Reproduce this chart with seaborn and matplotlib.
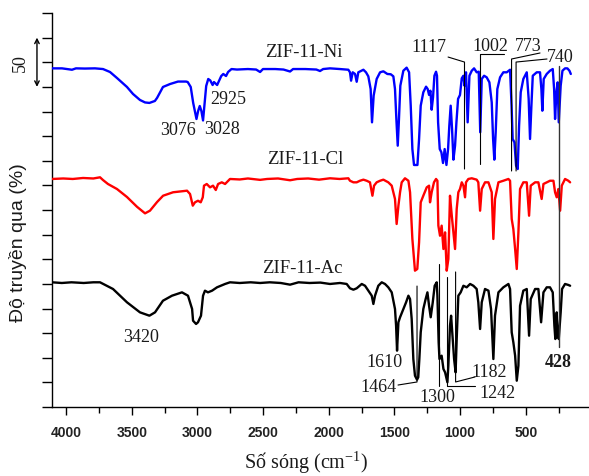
import pandas as pd
import matplotlib
matplotlib.use("Agg")
import matplotlib.pyplot as plt
import matplotlib.transforms as mtransforms
from matplotlib.ticker import MultipleLocator
import seaborn as sns

sns.set_style("ticks")
plt.rcParams["font.family"] = ["Liberation Serif", "DejaVu Serif"]
plt.rcParams["mathtext.fontset"] = "custom"
plt.rcParams["mathtext.rm"] = "Liberation Serif"
plt.rcParams["mathtext.it"] = "Liberation Serif:italic"

# FT-IR spectra (wavenumber cm-1, stacked transmittance), one list per sample
ni_spectrum = [
    (4132, 343.8), (4059, 343.8), (3986, 342.4), (3957, 343.8), (3891, 343.6), (3818, 343.8),
    (3759, 343.1), (3708, 340.1), (3657, 334.0), (3584, 324.9), (3540, 317.8), (3489, 311.7),
    (3452, 309.2), (3420, 308.7), (3380, 310.7), (3364, 313.8), (3321, 324.9), (3269, 327.9),
    (3211, 330.4), (3152, 330.4), (3140, 329.9), (3118, 324.9), (3100, 308.7), (3076, 292.4),
    (3064, 300.5), (3052, 305.6), (3040, 300.5), (3028, 290.9), (3018, 305.6), (3005, 325.9),
    (2990, 333.0), (2975, 331.5), (2958, 326.9), (2948, 329.9), (2925, 326.9), (2910, 331.5),
    (2895, 336.0), (2880, 338.1), (2860, 336.0), (2845, 340.1), (2820, 343.1), (2780, 342.6),
    (2700, 343.1), (2640, 342.6), (2611, 340.1), (2590, 343.1), (2500, 343.1), (2440, 342.6),
    (2392, 340.6), (2370, 343.1), (2280, 343.1), (2200, 342.6), (2173, 341.1), (2150, 343.1),
    (2100, 343.8), (2027, 343.1), (1966, 342.4), (1954, 339.8), (1946, 331.3), (1934, 339.8),
    (1917, 338.1), (1905, 330.2), (1893, 339.8), (1856, 342.4), (1837, 339.8), (1820, 335.7),
    (1803, 322.8), (1793, 289.0), (1781, 316.1), (1759, 333.0), (1734, 339.8), (1710, 340.8),
    (1681, 338.1), (1656, 337.8), (1637, 335.7), (1625, 322.8), (1615, 292.4), (1605, 265.3),
    (1596, 292.4), (1586, 326.2), (1564, 341.4), (1540, 344.5), (1522, 339.8), (1510, 305.9),
    (1498, 261.9), (1486, 245.7), (1461, 245.7), (1449, 272.1), (1437, 305.9), (1418, 319.5),
    (1398, 325.2), (1386, 322.8), (1376, 316.8), (1366, 321.1), (1357, 301.8), (1347, 314.5),
    (1337, 336.3), (1325, 340.4), (1318, 336.3), (1310, 289.0), (1298, 261.9), (1286, 258.6),
    (1274, 247.7), (1262, 261.9), (1249, 245.7), (1237, 261.9), (1228, 285.6), (1218, 305.9),
    (1208, 282.2), (1198, 251.1), (1186, 265.3), (1176, 289.0), (1164, 312.8), (1150, 316.8),
    (1137, 333.7), (1125, 336.3), (1117, 326.2), (1106, 339.8), (1094, 289.0), (1081, 336.3),
    (1064, 341.4), (1047, 343.8), (1028, 339.8), (1013, 340.4), (1002, 278.9), (991, 333.0),
    (974, 336.3), (955, 334.7), (935, 329.6), (918, 309.3), (908, 272.1), (899, 251.1),
    (889, 278.9), (877, 322.8), (857, 334.7), (833, 339.8), (808, 339.8), (784, 342.4),
    (773, 305.9), (765, 272.1), (752, 268.7), (740, 245.0), (728, 241.6), (718, 285.6),
    (706, 319.5), (687, 333.0), (662, 339.8), (648, 312.8), (638, 272.1), (628, 305.9),
    (618, 336.3), (589, 339.8), (565, 339.8), (555, 322.8), (548, 300.8), (538, 333.0),
    (516, 338.1), (492, 341.4), (472, 343.1), (462, 322.8), (455, 292.4), (445, 319.5),
    (436, 329.6), (428, 289.0), (414, 326.2), (401, 341.4), (382, 343.8), (365, 343.8),
    (350, 341.4), (340, 338.1),
]

cl_spectrum = [
    (4132, 231.5), (4050, 232.0), (3980, 231.5), (3905, 232.5), (3830, 232.0), (3781, 233.2),
    (3759, 230.4), (3723, 226.4), (3657, 221.3), (3584, 213.2), (3511, 203.3), (3452, 196.6),
    (3416, 199.3), (3364, 208.1), (3320, 214.5), (3247, 218.0), (3145, 219.6), (3123, 216.2),
    (3103, 204.4), (3087, 207.8), (3065, 209.4), (3045, 207.8), (3030, 212.9), (3021, 224.7),
    (3001, 226.4), (2977, 223.0), (2955, 224.7), (2935, 220.3), (2918, 226.4), (2891, 228.1),
    (2867, 226.4), (2831, 231.5), (2760, 231.0), (2700, 232.0), (2611, 230.6), (2560, 231.5),
    (2480, 232.0), (2392, 230.2), (2340, 231.5), (2260, 232.0), (2180, 230.8), (2100, 232.2),
    (2030, 231.5), (1966, 232.2), (1954, 229.7), (1929, 228.1), (1905, 228.1), (1881, 229.7),
    (1856, 230.8), (1832, 229.7), (1808, 228.1), (1790, 214.5), (1778, 224.7), (1759, 228.1),
    (1734, 229.7), (1710, 230.8), (1674, 228.1), (1649, 224.7), (1625, 211.2), (1613, 185.8),
    (1600, 204.4), (1588, 218.0), (1576, 228.1), (1552, 232.2), (1527, 229.7), (1515, 218.0),
    (1498, 170.6), (1479, 138.4), (1462, 140.1), (1449, 167.2), (1437, 207.8), (1418, 214.5),
    (1393, 223.0), (1376, 224.7), (1369, 207.8), (1357, 218.0), (1340, 228.1), (1325, 231.5),
    (1315, 229.7), (1308, 184.1), (1296, 173.9), (1284, 184.1), (1271, 160.4), (1259, 177.3),
    (1247, 138.4), (1235, 150.3), (1223, 214.5), (1210, 194.2), (1198, 177.3), (1186, 160.4),
    (1174, 201.0), (1162, 218.0), (1150, 221.3), (1137, 228.1), (1125, 224.7), (1113, 212.9),
    (1106, 228.1), (1089, 231.5), (1064, 232.2), (1028, 230.8), (1016, 228.1), (1003, 199.3),
    (991, 221.3), (967, 228.1), (942, 228.1), (918, 218.0), (906, 170.6), (894, 211.2),
    (869, 228.1), (833, 229.7), (796, 231.5), (784, 229.7), (772, 190.9), (760, 180.7),
    (747, 160.4), (735, 140.1), (723, 177.3), (711, 221.3), (687, 228.1), (662, 228.1),
    (645, 194.2), (633, 224.7), (601, 228.1), (577, 228.1), (553, 211.2), (540, 226.4),
    (516, 228.1), (492, 229.7), (467, 229.7), (455, 218.0), (443, 212.9), (431, 221.3),
    (418, 199.3), (406, 224.7), (382, 231.5), (358, 229.7), (345, 228.1),
]

ac_spectrum = [
    (4132, 126.6), (4060, 125.9), (3990, 126.6), (3900, 125.9), (3830, 126.6), (3781, 126.6),
    (3686, 119.8), (3584, 106.3), (3489, 96.1), (3420, 92.7), (3379, 96.1), (3321, 107.9),
    (3255, 113.0), (3182, 116.4), (3138, 113.0), (3108, 99.5), (3101, 87.6), (3079, 84.3),
    (3065, 86.0), (3043, 92.7), (3028, 113.0), (3014, 118.1), (2992, 116.4), (2962, 118.1),
    (2926, 121.5), (2867, 124.9), (2831, 126.6), (2760, 125.9), (2680, 126.6), (2611, 125.9),
    (2540, 126.6), (2460, 125.9), (2392, 124.2), (2330, 126.6), (2250, 125.9), (2170, 126.3),
    (2100, 124.9), (2027, 125.9), (1978, 124.9), (1954, 120.5), (1929, 119.1), (1905, 120.5),
    (1868, 124.9), (1844, 123.1), (1820, 118.1), (1795, 113.0), (1783, 104.6), (1771, 113.0),
    (1747, 123.1), (1722, 126.6), (1698, 124.9), (1674, 121.5), (1649, 116.4), (1625, 99.5),
    (1617, 82.5), (1610, 57.2), (1600, 86.0), (1588, 91.1), (1564, 99.5), (1544, 106.3),
    (1527, 113.0), (1515, 109.6), (1503, 89.3), (1491, 48.7), (1479, 31.8), (1464, 27.7),
    (1455, 30.2), (1447, 48.7), (1437, 75.8), (1418, 99.5), (1401, 109.6), (1388, 116.4),
    (1376, 102.8), (1364, 91.1), (1349, 106.3), (1335, 123.1), (1320, 126.6), (1315, 113.0),
    (1306, 65.7), (1300, 48.7), (1284, 52.1), (1271, 38.6), (1259, 35.2), (1242, 25.1),
    (1235, 41.9), (1223, 82.5), (1215, 92.7), (1203, 69.0), (1193, 48.7), (1182, 35.2),
    (1174, 69.0), (1162, 113.0), (1145, 116.4), (1125, 123.1), (1101, 121.5), (1076, 124.9),
    (1052, 123.1), (1028, 119.8), (1016, 106.3), (1003, 79.2), (991, 106.3), (967, 119.8),
    (942, 118.1), (923, 99.5), (906, 48.7), (894, 92.7), (869, 116.4), (833, 121.5),
    (796, 124.9), (784, 119.8), (772, 75.8), (760, 65.7), (747, 52.1), (735, 26.7),
    (723, 41.9), (711, 102.8), (687, 118.1), (662, 119.8), (645, 72.4), (633, 109.6),
    (601, 119.8), (577, 119.8), (557, 86.0), (540, 116.4), (516, 121.5), (492, 121.5),
    (472, 116.4), (460, 82.5), (453, 69.0), (443, 96.1), (436, 75.8), (428, 69.0),
    (414, 96.1), (404, 119.8), (382, 124.9), (358, 123.9), (345, 123.1),
]

sample_names = ["ZIF-11-Ni", "ZIF-11-Cl", "ZIF-11-Ac"]
sample_colors = {"ZIF-11-Ni": "#0000ff", "ZIF-11-Cl": "#ff0000", "ZIF-11-Ac": "#000000"}
# name label positions (wavenumber, transmittance)
name_pos = {"ZIF-11-Ni": (2005, 361.4), "ZIF-11-Cl": (2005, 251.8), "ZIF-11-Ac": (2005, 142.1)}

# band labels: text, label position, leader line
band_labels = [
    ("3076", (3211, 282.2), None),
    ("3028", (2889, 283.2), None),
    ("2925", (2845, 312.7), None),
    ("3420", (3481, 71.1), None),
    ("1117", (1376, 365.5), [(1237, 355.3), (1117, 350.2), (1117, 241.6)]),
    ("1002", (930, 366.5), [(1002, 246.7), (1002, 358.4), (830, 358.4)]),
    ("773", (652, 366.5), [(773, 239.6), (773, 353.3), (565, 359.4)]),
    ("740", (418, 356.3), [(740, 239.6), (740, 350.2), (514, 353.3)]),
    ("1610", (1705, 45.7), None),
    ("1464", (1749, 21.3), [(1464, 122.8), (1464, 25.4), (1603, 22.3)]),
    ("1300", (1318, 10.2), [(1300, 145.2), (1300, 21.3)]),
    ("1182", (937, 36.5), [(1182, 137.1), (1182, 25.4), (1040, 30.5)]),
    ("1242", (879, 15.2), [(1242, 132.0), (1242, 21.3), (1040, 21.3)]),
]
long_band = ("428", (433, 46.7), [(428, 346.2), (428, 60.9)])

frames = []
for name, pts in zip(sample_names, [ni_spectrum, cl_spectrum, ac_spectrum]):
    df = pd.DataFrame(pts, columns=["wavenumber", "transmittance"])
    df["sample"] = name
    frames.append(df)
spectra = pd.concat(frames, ignore_index=True)

fig = plt.figure(figsize=(5.89, 4.77), dpi=100)
ax = fig.add_axes([52 / 589, 1 - 408 / 477, 537 / 589, 394 / 477])

# frame with the wavenumber scale
ax.set_xlim(4107, 18)
ax.set_ylim(0, 400)
ax.xaxis.set_major_locator(MultipleLocator(500))
ax.xaxis.set_minor_locator(MultipleLocator(250))
ax.yaxis.set_major_locator(MultipleLocator(25))
ax.tick_params(axis="y", length=7, width=1, labelleft=False, color="black")
ax.tick_params(axis="x", which="major", length=6, width=1, pad=7, color="black")
ax.tick_params(axis="x", which="minor", length=4, width=1, color="black")
plt.setp(ax.get_xticklabels(), fontfamily="Liberation Sans", fontweight="bold",
         fontsize=10, color="#222222")
sns.despine(ax=ax)
for side in ("left", "bottom"):
    ax.spines[side].set_color("black")
    ax.spines[side].set_linewidth(1.0)

# spectra layer
ax2 = ax.twiny()
sns.lineplot(data=spectra, x="wavenumber", y="transmittance", hue="sample",
             palette=sample_colors, estimator=None, sort=False, legend=False,
             linewidth=1.7, ax=ax2)
ax2.set_xlim(4132, 207)
ax2.set_ylim(0, 400)
ax2.set_axis_off()

txt_color = "#1a1a1a"
for name in sample_names:
    x, y = name_pos[name]
    ax2.text(x, y, name, ha="right", va="center", fontsize=13.5, color=txt_color)

for text, (x, y), line in band_labels:
    ax2.text(x, y, text, ha="center", va="center", fontsize=13, color=txt_color)
    if line:
        xs, ys = zip(*line)
        ax2.plot(xs, ys, color="black", lw=0.8)

text, (x, y), line = long_band
ax2.text(x, y, text, ha="center", va="center", fontsize=13, fontweight="bold", color=txt_color)
xs, ys = zip(*line)
ax2.plot(xs, ys, color="#333333", lw=1.0)

# 50-unit transmittance scale bar
trans = mtransforms.blended_transform_factory(ax.transAxes, ax.transData)
ax.annotate("", xy=(-0.028, 375), xytext=(-0.028, 325), xycoords=trans, textcoords=trans,
            arrowprops=dict(arrowstyle="<->", lw=1.0, color="black",
                            shrinkA=0, shrinkB=0, mutation_scale=8),
            annotation_clip=False)
ax.text(-0.058, 350, "50", transform=trans, rotation=90, ha="center", va="center",
        fontsize=13, color=txt_color)

fig.text(18 / 589, 1 - 243 / 477, "Độ truyền qua (%)", rotation=90, ha="center",
         va="center", fontsize=14, fontfamily="Liberation Sans", color=txt_color)
fig.text(306 / 589, 1 - 463 / 477, "Số sóng (cm$^{-1}$)", ha="center", va="center",
         fontsize=14.5, color=txt_color)

fig.savefig("out.png", dpi=100)
